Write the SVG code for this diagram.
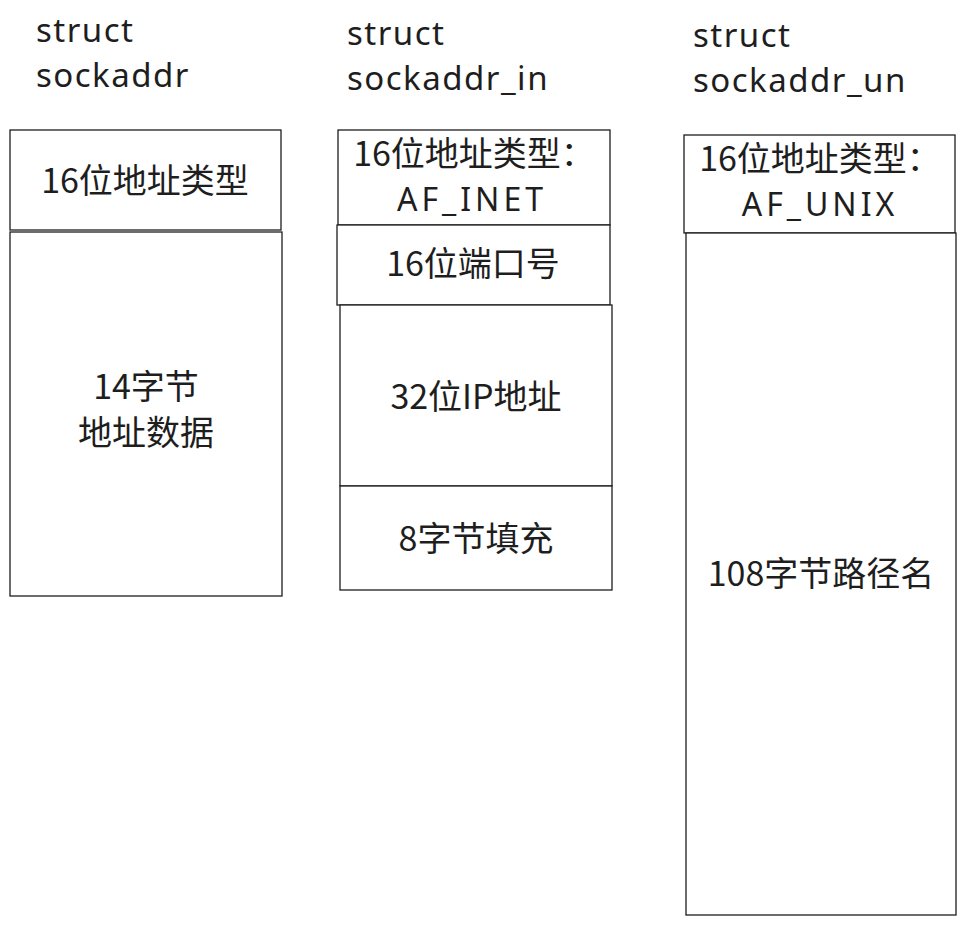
<svg xmlns="http://www.w3.org/2000/svg" width="966" height="925" viewBox="0 0 966 925">
<style>
.box{fill:#ffffff;stroke:#1e1e1e;stroke-width:1.3}
.t{font-family:"Noto Sans CJK SC","Noto Sans",sans-serif;font-size:34px;fill:#1e1e1e;text-anchor:middle}
.c{font-family:"Noto Sans","Noto Sans CJK SC",sans-serif;font-size:32px;fill:#1e1e1e;text-anchor:middle;letter-spacing:4px}
.h{font-family:"Noto Sans","Noto Sans CJK SC",sans-serif;font-size:33px;fill:#1e1e1e;letter-spacing:1.5px}
</style>
<rect width="966" height="925" fill="#ffffff"/>
<g id="title-sockaddr">
<text class="h" x="36" y="42">struct</text>
<text class="h" x="36" y="87">sockaddr</text>
</g>
<g id="title-sockaddr_in">
<text class="h" x="347" y="45">struct</text>
<text class="h" x="347" y="90">sockaddr_in</text>
</g>
<g id="title-sockaddr_un">
<text class="h" x="693" y="47">struct</text>
<text class="h" x="693" y="92">sockaddr_un</text>
</g>
<g id="sa-family">
<rect class="box" x="10" y="130" width="271" height="100"/>
<text class="t" x="145" y="193">16位地址类型</text>
</g>
<g id="sa-data">
<rect class="box" x="10" y="232" width="272" height="364"/>
<text class="t" x="146" y="399">14字节</text>
<text class="t" x="146" y="445">地址数据</text>
</g>
<g id="in-family">
<rect class="box" x="338" y="130" width="272" height="95"/>
<text class="t" x="474" y="166">16位地址类型：</text>
<text class="c" x="472" y="211">AF_INET</text>
</g>
<g id="in-port">
<rect class="box" x="337" y="225" width="273" height="80"/>
<text class="t" x="473" y="276">16位端口号</text>
</g>
<g id="in-addr">
<rect class="box" x="340" y="305" width="272" height="181"/>
<text class="t" x="476" y="409">32位IP地址</text>
</g>
<g id="in-zero">
<rect class="box" x="340" y="486" width="272" height="104"/>
<text class="t" x="476" y="551">8字节填充</text>
</g>
<g id="un-family">
<rect class="box" x="684" y="135" width="271" height="98"/>
<text class="t" x="820" y="171">16位地址类型：</text>
<text class="c" x="820" y="216">AF_UNIX</text>
</g>
<g id="un-path">
<rect class="box" x="686" y="233" width="270" height="682"/>
<text class="t" x="821" y="586">108字节路径名</text>
</g>
<g id="connectors"></g>
</svg>
